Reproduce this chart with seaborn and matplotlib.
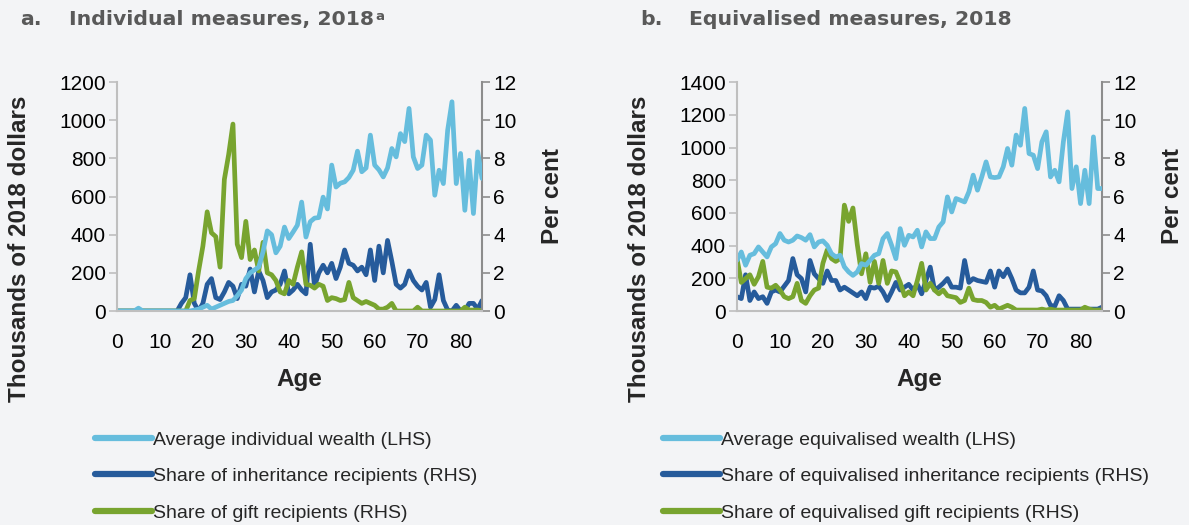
import numpy as np
import pandas as pd
import seaborn as sns
import matplotlib.pyplot as plt
from matplotlib.lines import Line2D

ages = list(range(0, 86))

# panel a: individual measures
wealth_a = [0, 0, 0, 0, 0, 15, 0, 0, 0, 0,
            0, 0, 0, 0, 0, 0, 0, 0, 5, 10,
            20, 30, 10, 20, 30, 40, 50, 55, 80, 110,
            170, 200, 215, 230, 310, 420, 400, 305, 340, 440,
            380, 414, 450, 571, 388, 468, 487, 490, 597, 535,
            765, 650, 670, 677, 700, 738, 838, 730, 750, 922,
            765, 740, 703, 750, 852, 808, 930, 888, 1062, 808,
            747, 765, 922, 896, 607, 738, 668, 948, 1097, 668,
            826, 528, 790, 511, 834, 695]
inherit_a = [0, 0, 0, 0, 0, 0, 0, 0, 0, 0,
             0, 0, 0, 0, 0, 0.4, 0.7, 1.9, 0.4, 0,
             0.4, 1.4, 1.7, 0.7, 0.6, 1.0, 1.5, 1.3, 0.65, 1.4,
             1.3, 2.2, 1.0, 2.1, 1.6, 0.7, 1.0, 1.1, 1.4, 2.1,
             0.9, 1.1, 1.4, 1.1, 0.9, 3.5, 1.3, 2.0, 2.4, 2.0,
             2.5, 1.7, 2.3, 3.2, 2.5, 2.4, 2.1, 2.3, 1.9, 3.2,
             1.6, 3.4, 2.0, 3.7, 2.6, 1.4, 1.2, 1.4, 2.1, 1.6,
             1.3, 1.1, 1.5, 0.2, 0.6, 1.9, 0.55, 0.05, 0, 0.3,
             0, 0, 0.4, 0.4, 0.1, 0.55]
gift_a = [0, 0, 0, 0, 0, 0, 0, 0, 0, 0,
          0, 0, 0, 0, 0, 0, 0, 0.55, 0.65, 2.1,
          3.4, 5.2, 4.1, 3.9, 2.3, 6.9, 8.2, 9.8, 3.5, 2.8,
          4.7, 2.7, 3.2, 2.1, 3.6, 2.0, 1.9, 1.6, 1.0, 0.9,
          1.6, 1.4, 2.3, 3.1, 1.4, 1.35, 1.2, 1.4, 1.3, 0.55,
          0.7, 0.65, 0.55, 0.6, 1.5, 0.7, 0.55, 0.4, 0.5, 0.4,
          0.3, 0.1, 0.1, 0.2, 0.4, 0, 0, 0, 0, 0,
          0.2, 0, 0, 0, 0, 0, 0, 0, 0, 0,
          0, 0.2, 0.05, 0.05, 0.05, 0]

# panel b: equivalised measures
wealth_b = [310, 361, 280, 341, 351, 392, 361, 331, 392, 412,
            474, 433, 422, 433, 459, 449, 433, 467, 392, 422,
            429, 402, 351, 331, 341, 270, 239, 218, 239, 290,
            280, 310, 341, 351, 443, 474, 402, 320, 504, 402,
            463, 453, 494, 392, 484, 443, 443, 514, 545, 698,
            606, 688, 678, 667, 729, 831, 739, 820, 912, 820,
            816, 820, 882, 994, 892, 1076, 1014, 1239, 963, 953,
            871, 1035, 1096, 820, 861, 790, 1035, 1218, 749, 882,
            657, 861, 657, 1065, 749, 749]
inherit_b = [0.75, 0.65, 1.9, 0.55, 1.0, 0.65, 0.75, 0.4, 1.0, 1.1,
             1.0, 1.3, 1.6, 2.75, 1.9, 1.7, 1.0, 2.65, 1.95, 1.7,
             1.45, 2.1, 1.6, 1.6, 1.1, 1.25, 1.1, 0.95, 0.8, 1.0,
             0.65, 1.25, 1.2, 1.3, 1.0, 0.55, 1.0, 1.5, 1.1, 1.25,
             1.4, 1.1, 1.4, 0.9, 1.6, 2.3, 1.1, 1.25, 1.45, 1.7,
             1.25, 1.25, 1.2, 2.65, 1.5, 1.7, 1.6, 1.55, 1.5, 2.1,
             1.25, 2.1, 1.8, 2.2, 1.7, 1.1, 0.95, 0.95, 1.25, 2.1,
             1.1, 1.05, 0.8, 0.3, 0.25, 0.8, 0.55, 0.1, 0.1, 0.1,
             0.1, 0.1, 0.1, 0.1, 0.1, 0.2]
gift_b = [2.75, 1.5, 1.7, 1.9, 1.4, 1.8, 2.6, 1.25, 1.2, 1.35,
          1.1, 0.75, 0.65, 0.75, 1.45, 0.55, 0.4, 0.8, 1.1, 1.2,
          2.5, 3.2, 2.75, 2.6, 2.75, 5.55, 4.7, 5.4, 3.5, 1.95,
          3.0, 1.5, 2.6, 1.45, 2.65, 1.45, 2.1, 2.05, 1.5, 0.8,
          1.0, 0.8, 1.6, 2.5, 1.1, 1.45, 1.1, 0.9, 1.1, 0.8,
          0.75, 0.7, 0.45, 0.55, 1.2, 0.6, 0.55, 0.55, 0.45, 0.2,
          0.3, 0.1, 0.2, 0.3, 0.2, 0.05, 0.05, 0.05, 0.05, 0.05,
          0.05, 0.1, 0.05, 0.1, 0.05, 0.05, 0.05, 0.05, 0.05, 0.05,
          0.05, 0.2, 0.1, 0.05, 0.05, 0.05]

labels_a = ["Average individual wealth (LHS)",
            "Share of inheritance recipients (RHS)",
            "Share of gift recipients (RHS)"]
labels_b = ["Average equivalised wealth (LHS)",
            "Share of equivalised inheritance recipients (RHS)",
            "Share of equivalised gift recipients (RHS)"]

LIGHT = "#66BDDD"
DARK = "#265B9B"
GREEN = "#78A42F"
BG = "#F3F4F6"

sns.set_style("white")
plt.rcParams['font.family'] = ['Liberation Sans', 'DejaVu Sans']

fig = plt.figure(figsize=(11.89, 5.25), dpi=100)
fig.patch.set_facecolor(BG)


def panel(left, wealth, inherit, gift, ymax, ystep, letter, title, sup,
          labels, leg_dx):
    ax = fig.add_axes([left, 0.4076, 0.307, 0.436])
    ax.set_facecolor(BG)
    ax2 = ax.twinx()
    sns.lineplot(x=ages, y=wealth, ax=ax, color=LIGHT, lw=3.4)
    sns.lineplot(x=ages, y=inherit, ax=ax2, color=DARK, lw=3.4)
    sns.lineplot(x=ages, y=gift, ax=ax2, color=GREEN, lw=3.4)
    ax.set_zorder(ax2.get_zorder() + 1)
    ax.patch.set_visible(False)
    ax2.patch.set_visible(True)
    ax2.patch.set_facecolor(BG)

    ax.set_xlim(0, 85)
    ax.set_xticks(range(0, 81, 10))
    ax.set_ylim(0, ymax)
    ax.set_yticks(np.arange(0, ymax + 1, ystep))
    ax2.set_ylim(0, 12)
    ax2.set_yticks(range(0, 13, 2))

    for a in (ax, ax2):
        a.spines['top'].set_visible(False)
        a.tick_params(labelsize=15, length=6, width=1.2, colors="#BFBFBF",
                      labelcolor="black", direction='out', pad=2)
    ax.tick_params(axis='x', pad=10)
    ax.spines['left'].set_color("#BFBFBF")
    ax.spines['bottom'].set_color("#BFBFBF")
    ax.spines['right'].set_visible(False)
    ax2.spines['left'].set_visible(False)
    ax2.spines['bottom'].set_visible(False)
    ax2.spines['right'].set_color("#8C8C8C")
    ax2.spines['right'].set_linewidth(1.5)
    ax2.tick_params(axis='y', colors="#8C8C8C", labelcolor="black")
    for s in ('left', 'bottom'):
        ax.spines[s].set_linewidth(1.5)

    ax.set_xlabel("Age", fontsize=17.5, fontweight='bold')
    ax.xaxis.set_label_coords(0.5, -0.25)
    ax.set_ylabel("Thousands of 2018 dollars", fontsize=17.5, fontweight='bold')
    ax.yaxis.set_label_coords(-0.236, 0.27)
    ax2.set_ylabel("Per cent", fontsize=17.5, fontweight='bold')
    ax2.yaxis.set_label_coords(1.162, 0.5)

    fig.text(left - 97 / 1189, 0.963, letter, fontsize=14.7, fontweight='bold',
             color="#595959", va='center', family='DejaVu Sans')
    t = fig.text(left - 48 / 1189, 0.963, title, fontsize=14.7, fontweight='bold',
                 color="#595959", va='center', family='DejaVu Sans')
    if sup:
        ax.annotate(sup, xy=(1, 1), xycoords=t, xytext=(1, 0),
                    textcoords='offset points', va='top', ha='left',
                    fontsize=9.5, fontweight='bold', color="#595959",
                    family='DejaVu Sans')

    handles = [Line2D([], [], color=c, lw=4.5, solid_capstyle='round')
               for c in (LIGHT, DARK, GREEN)]
    fig.legend(handles, labels, loc='upper left',
               bbox_to_anchor=(left - leg_dx / 1189, 1 - 431 / 525),
               frameon=False, fontsize=14, handlelength=2.95,
               handletextpad=0.05, labelspacing=0.98, borderaxespad=0,
               borderpad=0)
    return ax


panel(117 / 1189, wealth_a, inherit_a, gift_a, 1200, 200, "a.",
      "Individual measures, 2018", "a", labels_a, 22)
panel(737 / 1189, wealth_b, inherit_b, gift_b, 1400, 200, "b.",
      "Equivalised measures, 2018", "", labels_b, 74)

fig.savefig("out.png", dpi=100, facecolor=BG)
